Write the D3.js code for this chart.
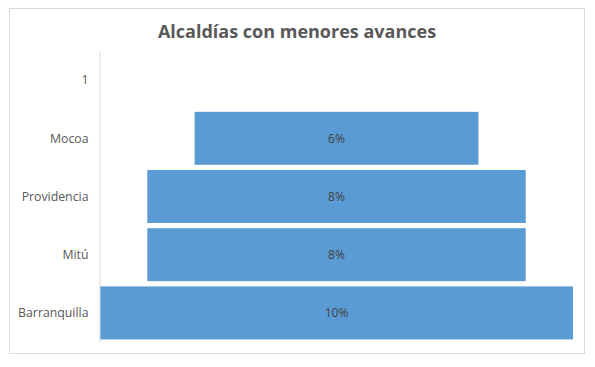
<!DOCTYPE html>
<html>
<head>
    <meta charset="utf-8">
    <script src="https://d3js.org/d3.v7.min.js"></script>
    <style>
        body { margin: 0; background: #fff; font-family: "Open Sans", Arial, sans-serif; }
        .frame { fill: #fff; stroke: #d9d9d9; stroke-width: 1px; }
        .title { font-size: 18px; font-weight: bold; fill: #595959; }
        .axis text { font-size: 12.3px; fill: #595959; font-family: "Open Sans", Arial, sans-serif; }
        .axis path { stroke: #d9d9d9; }
        .bar { fill: #5b9bd5; }
        .label { font-size: 12px; fill: #404040; }
    </style>
</head>
<body>
    <svg width="595" height="367"></svg>
    <script>
        // categories top to bottom, "1" is an empty row
        const categories = ["1", "Mocoa", "Providencia", "Mitú", "Barranquilla"];
        const values = [null, 0.06, 0.08, 0.08, 0.10];
        const valueLabels = ["", "6%", "8%", "8%", "10%"];

        const svg = d3.select("svg");

        svg.append("rect").attr("class", "frame")
            .attr("x", 9.5).attr("y", 8.5).attr("width", 575).attr("height", 345);

        svg.append("text").attr("class", "title")
            .attr("x", 297).attr("y", 38)
            .attr("text-anchor", "middle")
            .text("Alcaldías con menores avances");

        // centered funnel: total width of the widest bar = max value
        let x = d3.scaleLinear().domain([-0.05, 0.05]).range([100, 573]);
        let y = d3.scaleBand().domain(categories).range([51, 342])
            .paddingInner(0.09).paddingOuter(0.045);

        let rows = categories.map((c, i) => ({ cat: c, value: values[i], label: valueLabels[i] }))
            .filter(d => d.value != null);

        svg.selectAll(".bar")
            .data(rows)
            .enter().append("rect")
            .attr("class", "bar")
            .attr("x", d => x(-d.value / 2))
            .attr("width", d => x(d.value / 2) - x(-d.value / 2))
            .attr("y", d => y(d.cat))
            .attr("height", y.bandwidth());

        svg.selectAll(".label")
            .data(rows)
            .enter().append("text")
            .attr("class", "label")
            .attr("x", x(0))
            .attr("y", d => y(d.cat) + y.bandwidth() / 2)
            .attr("dy", "0.35em")
            .attr("text-anchor", "middle")
            .text(d => d.label);

        let axis = svg.append("g").attr("class", "axis")
            .attr("transform", "translate(99.5,0)")
            .call(d3.axisLeft(y).tickSize(0).tickPadding(11));
        axis.selectAll("text").attr("dy", "0.35em");
    </script>
</body>
</html>
